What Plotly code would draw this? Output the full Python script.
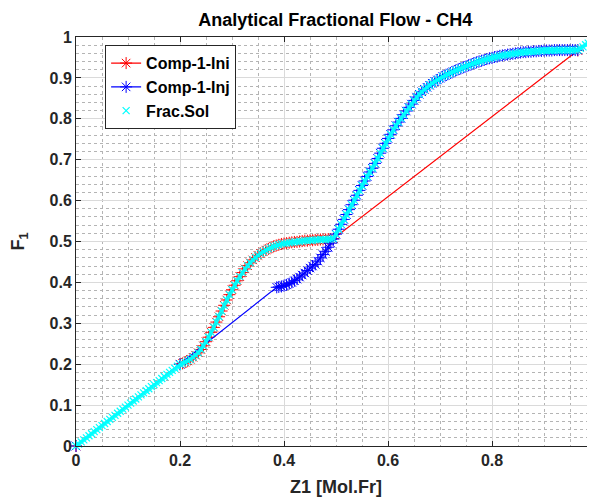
import plotly.graph_objects as go

# ---- data ----
diag_z = [0.0, 0.005, 0.01, 0.015, 0.02, 0.025, 0.03, 0.035, 0.04, 0.045, 0.05, 0.055, 0.06,
          0.065, 0.07, 0.075, 0.08, 0.085, 0.09, 0.095, 0.1, 0.105, 0.11, 0.115, 0.12, 0.125,
          0.13, 0.135, 0.14, 0.145, 0.15, 0.155, 0.16, 0.165, 0.17, 0.175, 0.18, 0.185, 0.19, 0.195]
diag_f = [0.0, 0.005, 0.01, 0.015, 0.02, 0.025, 0.03, 0.035, 0.04, 0.045, 0.05, 0.055, 0.06,
          0.065, 0.07, 0.075, 0.08, 0.085, 0.09, 0.095, 0.1, 0.105, 0.11, 0.115, 0.12, 0.125,
          0.13, 0.135, 0.14, 0.145, 0.15, 0.155, 0.16, 0.165, 0.17, 0.175, 0.18, 0.185, 0.19, 0.195]

ini_curve_z = [0.2, 0.205, 0.21, 0.215, 0.22, 0.225, 0.23, 0.235, 0.24, 0.245, 0.25, 0.255, 0.26,
               0.265, 0.27, 0.275, 0.28, 0.285, 0.29, 0.295, 0.3, 0.305, 0.31, 0.315, 0.32, 0.325,
               0.33, 0.335, 0.34, 0.345, 0.35, 0.355, 0.36, 0.365, 0.37, 0.375, 0.38, 0.385, 0.39,
               0.395, 0.4, 0.405, 0.41, 0.415, 0.42, 0.425, 0.43, 0.435, 0.44, 0.445, 0.45, 0.455,
               0.46, 0.465, 0.47, 0.475, 0.48, 0.485, 0.49, 0.495]
ini_curve_f = [0.2, 0.202, 0.205, 0.208, 0.212, 0.217, 0.222, 0.228, 0.236, 0.245, 0.255, 0.266, 0.278,
               0.29, 0.303, 0.316, 0.33, 0.344, 0.357, 0.37, 0.382, 0.393, 0.404, 0.414, 0.424, 0.433,
               0.441, 0.448, 0.455, 0.461, 0.466, 0.471, 0.475, 0.479, 0.482, 0.485, 0.488, 0.49, 0.492,
               0.494, 0.495, 0.496, 0.497, 0.498, 0.499, 0.499, 0.5, 0.501, 0.502, 0.502, 0.503, 0.503,
               0.504, 0.504, 0.505, 0.505, 0.505, 0.506, 0.506, 0.507]
ini_tail_z = [0.965]
ini_tail_f = [0.967]

inj_start_z = [0.0, 0.2]
inj_start_f = [0.0, 0.2]
inj_low_z = [0.386, 0.39, 0.395, 0.4, 0.405, 0.41, 0.415, 0.42, 0.425, 0.43, 0.435, 0.44, 0.445,
             0.45, 0.455, 0.46, 0.465, 0.47, 0.475, 0.48, 0.485, 0.49, 0.495]
inj_low_f = [0.388, 0.389, 0.39, 0.392, 0.394, 0.397, 0.4, 0.404, 0.408, 0.413, 0.418, 0.423, 0.429,
             0.435, 0.44, 0.444, 0.452, 0.46, 0.468, 0.476, 0.486, 0.496, 0.506]
inj_high_z = [0.5, 0.505, 0.51, 0.515, 0.52, 0.525, 0.53, 0.535, 0.54, 0.545, 0.55, 0.555, 0.56,
              0.565, 0.57, 0.575, 0.58, 0.585, 0.59, 0.595, 0.6, 0.605, 0.61, 0.615, 0.62, 0.625,
              0.63, 0.635, 0.64, 0.645, 0.65, 0.655, 0.66, 0.665, 0.67, 0.675, 0.68, 0.685, 0.69,
              0.695, 0.7, 0.705, 0.71, 0.715, 0.72, 0.725, 0.73, 0.735, 0.74, 0.745, 0.75, 0.755,
              0.76, 0.765, 0.77, 0.775, 0.78, 0.785, 0.79, 0.795, 0.8, 0.805, 0.81, 0.815, 0.82,
              0.825, 0.83, 0.835, 0.84, 0.845, 0.85, 0.855, 0.86, 0.865, 0.87, 0.875, 0.88, 0.885,
              0.89, 0.895, 0.9, 0.905, 0.91, 0.915, 0.92, 0.925, 0.93, 0.935, 0.94, 0.945, 0.95,
              0.955, 0.96, 0.965]
inj_high_f = [0.518, 0.53, 0.542, 0.554, 0.566, 0.578, 0.59, 0.601, 0.613, 0.625, 0.637, 0.648, 0.659,
              0.67, 0.679, 0.691, 0.703, 0.716, 0.728, 0.74, 0.752, 0.762, 0.773, 0.783, 0.792, 0.801,
              0.81, 0.819, 0.828, 0.836, 0.845, 0.853, 0.86, 0.866, 0.872, 0.877, 0.882, 0.887, 0.891,
              0.895, 0.899, 0.903, 0.906, 0.909, 0.912, 0.915, 0.918, 0.921, 0.923, 0.926, 0.928, 0.931,
              0.933, 0.936, 0.938, 0.94, 0.942, 0.944, 0.946, 0.948, 0.949, 0.951, 0.952, 0.954, 0.955,
              0.956, 0.957, 0.958, 0.959, 0.96, 0.961, 0.962, 0.963, 0.963, 0.964, 0.964, 0.965, 0.965,
              0.966, 0.966, 0.967, 0.967, 0.967, 0.967, 0.968, 0.968, 0.968, 0.968, 0.968, 0.968, 0.968,
              0.968, 0.968, 0.968]
end_z = [0.97, 0.975, 0.98, 0.985, 0.99, 0.995, 1.0]
end_f = [0.972, 0.976, 0.981, 0.985, 0.99, 0.995, 1.0]

x_ticks = [0, 0.2, 0.4, 0.6, 0.8, 1]
x_tick_text = ["0", "0.2", "0.4", "0.6", "0.8", "1"]
y_ticks = [0, 0.1, 0.2, 0.3, 0.4, 0.5, 0.6, 0.7, 0.8, 0.9, 1]
y_tick_text = ["0", "0.1", "0.2", "0.3", "0.4", "0.5", "0.6", "0.7", "0.8", "0.9", "1"]

# ---- assembled series ----
ini_z = [0.0] + ini_curve_z + ini_tail_z
ini_f = [0.0] + ini_curve_f + ini_tail_f
inj_z = inj_start_z + inj_low_z + inj_high_z + [1.0]
inj_f = inj_start_f + inj_low_f + inj_high_f + [1.0]
sol_z = diag_z + ini_curve_z + inj_high_z + end_z
sol_f = diag_f + ini_curve_f + inj_high_f + end_f

FONT = "Liberation Sans, Arial, sans-serif"
DARK = "#262626"

fig = go.Figure()
fig.add_trace(go.Scatter(
    x=ini_z, y=ini_f, name="Comp-1-Ini", mode="lines+markers",
    line=dict(color="red", width=1.2),
    marker=dict(symbol="asterisk-open", size=10, color="red", line=dict(color="red", width=1)),
    cliponaxis=False))
fig.add_trace(go.Scatter(
    x=inj_z, y=inj_f, name="Comp-1-Inj", mode="lines+markers",
    line=dict(color="blue", width=1.2),
    marker=dict(symbol="asterisk-open", size=10, color="blue", line=dict(color="blue", width=1)),
    cliponaxis=False))
# dense band under the Frac.Sol markers (same data, not in legend)
fig.add_trace(go.Scatter(
    x=sol_z, y=sol_f, mode="lines", showlegend=False, hoverinfo="skip",
    line=dict(color="rgba(0,255,255,0.85)", width=4), cliponaxis=False))
fig.add_trace(go.Scatter(
    x=sol_z, y=sol_f, name="Frac.Sol", mode="markers",
    marker=dict(symbol="x-thin-open", size=7, color="cyan", line=dict(color="cyan", width=1.2)),
    cliponaxis=False))

axis_common = dict(
    range=[0, 1], showline=True, linecolor=DARK, linewidth=1, mirror="ticks",
    ticks="inside", ticklen=5, tickcolor=DARK, tickwidth=1,
    showgrid=True, gridcolor="#dadada", gridwidth=1, zeroline=False, automargin=False,
    tickfont=dict(family=FONT, size=16, color=DARK, weight="bold"),
)

fig.update_xaxes(
    **axis_common, tickvals=x_ticks, ticktext=x_tick_text,
    minor=dict(dtick=0.05, showgrid=True, griddash="dot", gridcolor="#b4b4b4", gridwidth=1),
    title=dict(text="Z1 [Mol.Fr]", font=dict(family=FONT, size=18, color=DARK, weight="bold"),
               standoff=12))
fig.update_yaxes(
    **axis_common, tickvals=y_ticks, ticktext=y_tick_text,
    minor=dict(dtick=0.02, showgrid=True, griddash="dot", gridcolor="#b4b4b4", gridwidth=1),
    title=dict(text="F<sub>1</sub>", font=dict(family=FONT, size=18, color=DARK, weight="bold"),
               standoff=22))

# the page body adds an 8px offset, so margins are reduced by 8px to compensate
fig.update_layout(
    width=595, height=500,
    margin=dict(l=68, r=7, t=29, b=62),
    paper_bgcolor="white", plot_bgcolor="white",
    title=dict(text="Analytical Fractional Flow - CH4", x=0.55, xanchor="center",
               y=0.976, yanchor="middle",
               font=dict(family=FONT, size=18, color="black", weight="bold")),
    legend=dict(x=0.056, y=0.98, xanchor="left", yanchor="top",
                bgcolor="white", bordercolor=DARK, borderwidth=1,
                font=dict(family=FONT, size=16, color="black", weight="bold"),
                itemwidth=30, tracegroupgap=0),
    showlegend=True,
)

fig.write_html("out.html")
